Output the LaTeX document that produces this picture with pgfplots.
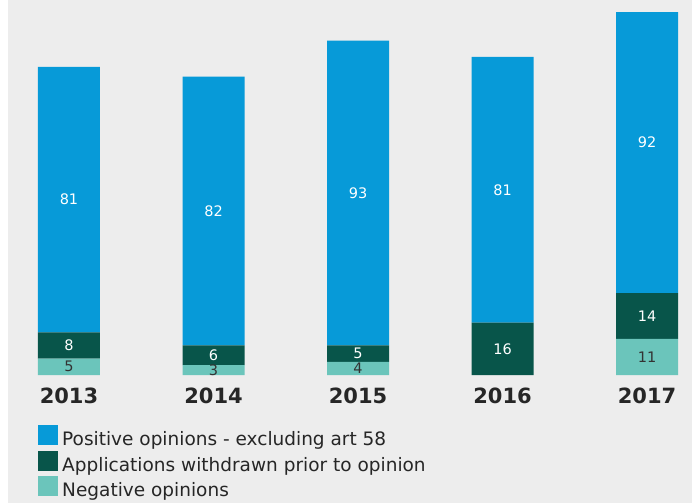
\documentclass[border=0pt]{standalone}
\usepackage{pgfplots}
\pgfplotsset{compat=1.18}
\usepackage{fontspec}
\setmainfont{DejaVu Sans}
\definecolor{bg}{HTML}{EDEDED}
\definecolor{posblue}{HTML}{079AD8}
\definecolor{withgreen}{HTML}{08554A}
\definecolor{negteal}{HTML}{6BC5BB}
\definecolor{labdark}{HTML}{333333}

\pgfplotsset{
  base/.style={
    at={(8pt,128pt)}, anchor=south west,
    scale only axis, width=684pt, height=362pt,
    xmin=-0.422, xmax=4.311, ymin=0, ymax=110.4,
    axis line style={draw=none}, tick style={draw=none},
    ytick=\empty,
  },
}

\begin{document}
\begin{tikzpicture}
\fill[bg] (8pt,0pt) rectangle (692pt,503pt);
\path[use as bounding box] (0pt,0pt) rectangle (692pt,503pt);

% stacked bars
\begin{axis}[base,
    ybar stacked, bar width=62pt,
    xtick={0,1,2,3,4},
    xticklabels={2013,2014,2015,2016,2017},
    xticklabel style={anchor=north, inner sep=0pt, yshift=-13pt,
        text=black!85, font=\bfseries\fontsize{21}{24}\selectfont},
    legend style={at={(axis description cs:0.0439,-0.138)}, anchor=north west,
        draw=none, fill=none, inner sep=0pt, row sep=1pt,
        font=\fontsize{18.5}{22}\selectfont, text=black!85,
        nodes={inner sep=0pt, text height=15pt, text depth=4pt},
        /tikz/every odd column/.append style={column sep=4pt}},
    legend cell align=left,
    legend image code/.code={\fill[#1] (0pt,-5pt) rectangle (20pt,15pt);},
    reverse legend,
]
\addplot[fill=negteal, draw=none]
    coordinates {(0,5) (1,3) (2,4) (3,0) (4,11)};
\addplot[fill=withgreen, draw=none]
    coordinates {(0,8) (1,6) (2,5) (3,16) (4,14)};
\addplot[fill=posblue, draw=none]
    coordinates {(0,81) (1,82) (2,93) (3,81) (4,92)};
\legend{Negative opinions,Applications withdrawn prior to opinion,Positive opinions - excluding art 58}
\end{axis}

% value labels at the middle of each segment
\begin{axis}[base, hide axis, clip=false,
    nodes near coords, point meta=explicit symbolic,
    every node near coord/.append style={anchor=center, inner sep=0pt,
        font=\fontsize{14.5}{17}\selectfont},
]
\addplot[draw=none, every node near coord/.append style={text=labdark}]
    coordinates {(0,2.5)[5] (1,1.5)[3] (2,2)[4] (4,5.5)[11]};
\addplot[draw=none, every node near coord/.append style={text=white}]
    coordinates {(0,9)[8] (1,6)[6] (2,6.5)[5] (3,8)[16] (4,18)[14]};
\addplot[draw=none, every node near coord/.append style={text=white}]
    coordinates {(0,53.5)[81] (1,50)[82] (2,55.5)[93] (3,56.5)[81] (4,71)[92]};
\end{axis}
\end{tikzpicture}
\end{document}
